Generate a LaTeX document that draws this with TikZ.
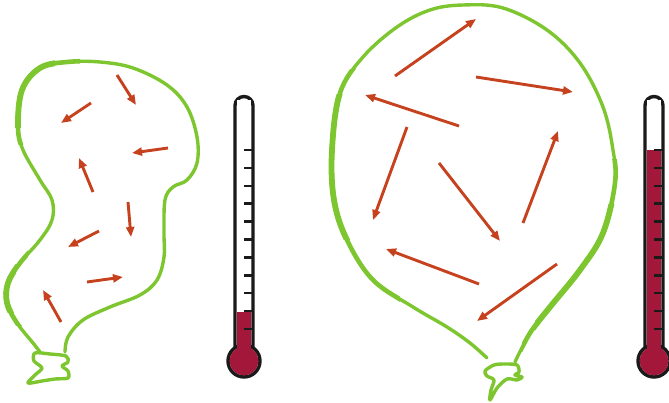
\documentclass[tikz,border=0pt]{standalone}
\usetikzlibrary{arrows.meta}
\definecolor{balloongreen}{RGB}{126,198,48}
\definecolor{molecule}{RGB}{198,66,30}
\definecolor{mercury}{RGB}{163,24,58}
\definecolor{glass}{RGB}{26,26,26}
\tikzset{
  skin/.style={draw=balloongreen, line width=3.4pt, line cap=round, line join=round},
  midskin/.style={skin, line width=4.6pt},
  thickskin/.style={skin, line width=5.8pt},
  motion/.style={draw=molecule, line width=2.9pt, -{Triangle[length=10pt,width=8pt]}},
  tube/.style={draw=glass, line width=3.4pt},
  tickmark/.style={draw=glass, line width=2.5pt},
}
% thermometer: #1 = centre x, #2 = top of the liquid
\newcommand\drawthermometer[2]{%
  \draw[tube] (#1,361) circle[radius=16];
  \draw[tube, rounded corners=9pt] (#1-9,348) -- (#1-9,96.5) -- (#1+9,96.5) -- (#1+9,348);
  \fill[white] (#1-7.3,100) rectangle (#1+7.3,350);
  \fill[mercury] (#1,361) circle[radius=14.3];
  \fill[mercury] (#1-7.3,#2) rectangle (#1+7.3,355);
  \foreach \k in {0,...,10} \draw[tickmark] (#1,150+17.9*\k) -- (#1+9,150+17.9*\k);
}
% thicken a stretch of a saved outline: #1 style, #2 saved path, #3 and #4 clip corners
\newcommand\thicken[4]{%
  \begin{scope}
    \clip #3 rectangle #4;
    \draw[#1, use path=#2];
  \end{scope}
}
\begin{document}
\begin{tikzpicture}[x=1pt,y=-1pt]
\useasboundingbox (0,0) rectangle (669,403);

% small, cool balloon
\path[save path=\smallskin] plot[smooth, tension=0.6] coordinates {(40,352) (33,343) (17,323) (7,303) (8,283) (20,263) (40,240) (52,220) (52,200) (40,180) (23,150) (18,127) (22,90) (40,68) (67,62) (100,62) (133,68) (167,85) (187,107) (197,137) (197,163) (187,180) (173,187) (165,200) (164,233) (164,257) (157,280) (140,295) (110,307) (83,320) (68,337) (65,352)};
\draw[skin, use path=\smallskin];
\thicken{midskin}{\smallskin}{(0,40)}{(80,145)}
\thicken{thickskin}{\smallskin}{(0,40)}{(55,128)}
\thicken{midskin}{\smallskin}{(0,250)}{(28,325)}
\thicken{thickskin}{\smallskin}{(0,265)}{(16,312)}
\draw[skin] plot[smooth cycle, tension=0.5] coordinates {(35,353) (50,354) (66,356) (68,362) (62,366) (68,371) (68,378) (55,379) (42,381) (28,383) (35,375) (42,368) (34,361)};

% molecules in the small balloon
\draw[motion] (117,75) -- (136,105);
\draw[motion] (91,103) -- (61,123);
\draw[motion] (168,148) -- (132,153);
\draw[motion] (93,192) -- (79,158);
\draw[motion] (128,202) -- (131,237);
\draw[motion] (99,231) -- (68,247);
\draw[motion] (87,282) -- (123,277);
\draw[motion] (61,322) -- (43,290);

% large, warm balloon
\path[save path=\largeskin] plot[smooth, tension=0.6] coordinates {(487,358) (470,343) (447,327) (413,307) (373,280) (347,240) (334,200) (332,150) (340,93) (363,57) (397,27) (430,10) (463,5) (503,8) (547,30) (580,63) (603,107) (613,150) (615,183) (603,233) (580,270) (550,307) (530,333) (515,362)};
\draw[skin, use path=\largeskin];
\thicken{midskin}{\largeskin}{(320,70)}{(400,310)}
\thicken{thickskin}{\largeskin}{(320,95)}{(350,240)}
\thicken{midskin}{\largeskin}{(522,160)}{(640,355)}
\thicken{thickskin}{\largeskin}{(535,205)}{(640,330)}
\draw[skin] plot[smooth cycle, tension=0.5] coordinates {(485,371) (494,365) (505,364) (517,365) (519,372) (515,375) (522,377) (517,380) (507,379) (497,388) (490,400) (491,390) (494,380) (487,376)};

% molecules in the large balloon
\draw[motion] (395,76) -- (476,19);
\draw[motion] (476,77) -- (573,92);
\draw[motion] (459,126) -- (365,95);
\draw[motion] (407,127) -- (373,220);
\draw[motion] (439,163) -- (500,241);
\draw[motion] (523,223) -- (558,131);
\draw[motion] (479,284) -- (386,249);
\draw[motion] (557,264) -- (477,321);

% thermometers
\drawthermometer{244}{312}
\drawthermometer{654}{150}
\end{tikzpicture}
\end{document}
